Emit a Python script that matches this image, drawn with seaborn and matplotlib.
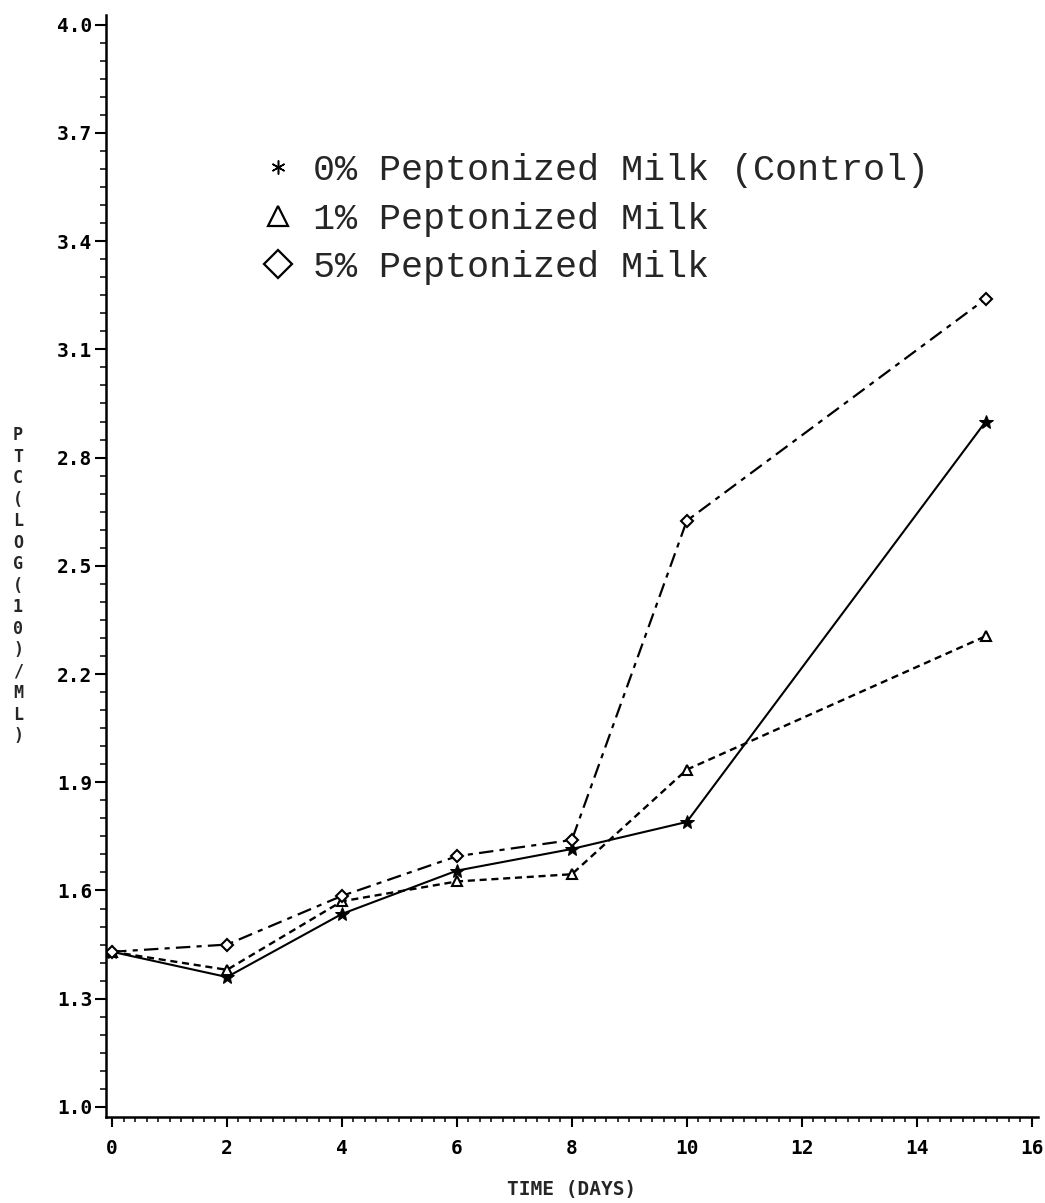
import matplotlib
matplotlib.use("Agg")
import matplotlib.pyplot as plt
from matplotlib.lines import Line2D
from matplotlib.ticker import MultipleLocator, FormatStrFormatter
import seaborn as sns
import pandas as pd

# Storage time (days) and plate counts, log10 CFU/mL
days = [0, 2, 4, 6, 8, 10, 15.2]
ptc_control = [1.43, 1.36, 1.535, 1.655, 1.715, 1.79, 2.90]
ptc_1pct = [1.43, 1.38, 1.57, 1.625, 1.645, 1.935, 2.305]
ptc_5pct = [1.43, 1.45, 1.585, 1.695, 1.74, 2.625, 3.24]

series_labels = ["0% Peptonized Milk (Control)",
                 "1% Peptonized Milk",
                 "5% Peptonized Milk"]

x_ticks = [0, 2, 4, 6, 8, 10, 12, 14, 16]
y_ticks = [1.0, 1.3, 1.6, 1.9, 2.2, 2.5, 2.8, 3.1, 3.4, 3.7, 4.0]

df = pd.DataFrame({
    "day": days * 3,
    "ptc": ptc_control + ptc_1pct + ptc_5pct,
    "group": [series_labels[0]] * len(days)
             + [series_labels[1]] * len(days)
             + [series_labels[2]] * len(days),
})

sns.set_style("ticks")
plt.rcParams["font.family"] = ["DejaVu Sans Mono", "DejaVu Sans"]

W, H = 1045, 1203
fig = plt.figure(figsize=(W / 100, H / 100), dpi=100)
# axes box in pixels: left 106, right 1038, top 15, bottom 1117
ax = fig.add_axes([106 / W, 1 - 1117 / H, (1038 - 106) / W, (1117 - 15) / H])

styles = {
    series_labels[0]: dict(marker="*", markersize=10, markerfacecolor="black",
                           markeredgecolor="black", linewidth=1.5),
    series_labels[1]: dict(marker="^", markersize=7, markerfacecolor="white",
                           markeredgecolor="black", markeredgewidth=1.5,
                           linewidth=1.7, dashes=(3.0, 2.0)),
    series_labels[2]: dict(marker="D", markersize=6, markerfacecolor="white",
                           markeredgecolor="black", markeredgewidth=1.5,
                           linewidth=1.6, dashes=(6.5, 2.8, 2.3, 2.8)),
}

for label in series_labels:
    sub = df[df["group"] == label]
    sns.lineplot(data=sub, x="day", y="ptc", ax=ax, color="black",
                 legend=False, **styles[label])

ax.set_xlim(-0.105, 16.11)
ax.set_ylim(0.972, 4.027)
ax.set_xticks(x_ticks)
ax.set_yticks(y_ticks)
ax.xaxis.set_minor_locator(MultipleLocator(0.2))
ax.yaxis.set_minor_locator(MultipleLocator(0.05))
ax.yaxis.set_major_formatter(FormatStrFormatter("%.1f"))

sns.despine(ax=ax)
for side in ("left", "bottom"):
    ax.spines[side].set_linewidth(1.8)
    ax.spines[side].set_color("black")

ax.tick_params(axis="x", which="major", direction="out", length=7, width=1.5,
               pad=9, labelsize=14, colors="black")
ax.tick_params(axis="x", which="minor", direction="out", length=3.5, width=1.3)
ax.tick_params(axis="y", which="major", direction="out", length=8, width=1.5,
               pad=2, labelsize=14, colors="black")
ax.tick_params(axis="y", which="minor", direction="out", length=4, width=1.3)
for lab in ax.get_xticklabels() + ax.get_yticklabels():
    lab.set_fontweight("bold")

ax.set_xlabel("TIME (DAYS)", fontsize=14, fontweight="bold", labelpad=16)
ax.set_ylabel("")

fig.text(18 / W, 1 - 586 / H, "\n".join("PTC(LOG(10)/ML)"),
         ha="center", va="center", fontsize=12, fontweight="bold",
         linespacing=1.25)

handles = [
    Line2D([], [], ls="none", marker=(6, 2, 0), markersize=10,
           markeredgewidth=1.1, color="black"),
    Line2D([], [], ls="none", marker="^", markersize=15, markerfacecolor="white",
           markeredgecolor="black", markeredgewidth=1.6),
    Line2D([], [], ls="none", marker="D", markersize=14, markerfacecolor="white",
           markeredgecolor="black", markeredgewidth=1.6),
]
ax.legend(handles, series_labels, loc="upper left",
          bbox_to_anchor=(260 / W, 1 - 153 / H),
          bbox_transform=fig.transFigure, frameon=False,
          prop={"family": "Liberation Mono", "size": 26.5},
          handlelength=1.0, handletextpad=0.45, labelspacing=0.37,
          borderpad=0, borderaxespad=0)

fig.savefig("out.png", dpi=100, facecolor="white")
